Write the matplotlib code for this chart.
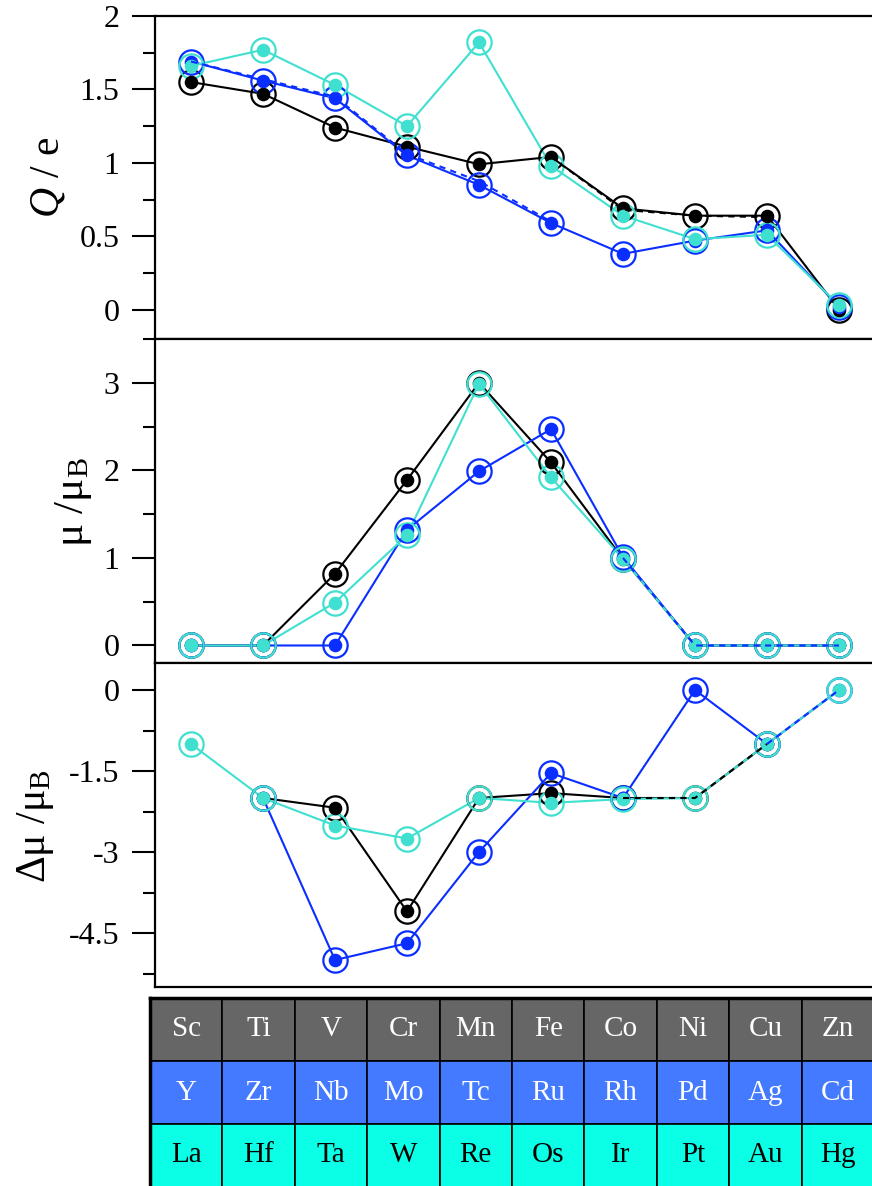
import numpy as np
import matplotlib
matplotlib.use("Agg")
import matplotlib.pyplot as plt
from matplotlib.ticker import MultipleLocator, FormatStrFormatter

plt.rcParams.update({
    "font.family": "Liberation Serif",
    "mathtext.fontset": "custom",
    "mathtext.rm": "Liberation Serif",
    "mathtext.it": "Liberation Serif:italic",
    "axes.unicode_minus": False,
})

# elements, one row of the periodic table per series
row_3d = ["Sc", "Ti", "V", "Cr", "Mn", "Fe", "Co", "Ni", "Cu", "Zn"]
row_4d = ["Y", "Zr", "Nb", "Mo", "Tc", "Ru", "Rh", "Pd", "Ag", "Cd"]
row_5d = ["La", "Hf", "Ta", "W", "Re", "Os", "Ir", "Pt", "Au", "Hg"]

nan = np.nan

# charge Q / e
q_3d = [1.55, 1.47, 1.24, 1.11, 0.99, 1.04, 0.69, 0.64, 0.64, 0.00]
q_4d = [1.69, 1.56, 1.44, 1.05, 0.85, 0.59, 0.38, 0.47, 0.54, 0.02]
q_5d = [1.66, 1.77, 1.53, 1.25, 1.82, 0.98, 0.64, 0.48, 0.51, 0.03]
q_4d_dash = [1.69, 1.57, 1.45, 1.06, 0.875, 0.60, nan, nan, nan, nan]
q_3d_dash = [nan, nan, nan, nan, nan, 1.04, 0.68, 0.64, 0.63, nan]

# magnetic moment mu / mu_B
mu_3d = [0.0, 0.0, 0.82, 1.89, 3.00, 2.09, 0.99, 0.0, 0.0, 0.0]
mu_4d = [0.0, 0.0, 0.00, 1.32, 1.99, 2.47, 1.01, 0.0, 0.0, 0.0]
mu_5d = [0.0, 0.0, 0.49, 1.26, 2.99, 1.92, 0.99, 0.0, 0.0, 0.0]
mu_4d_dash = [nan, nan, nan, nan, nan, nan, 1.0, 0.0, 0.0, 0.0]

# moment change delta mu / mu_B
dmu_3d = [nan, -2.0, -2.18, -4.10, -2.00, -1.91, -2.00, -2.0, -1.0, nan]
dmu_4d = [nan, -2.0, -5.00, -4.69, -3.00, -1.54, -2.00, 0.0, -1.0, 0.0]
dmu_5d = [-1.0, -2.0, -2.51, -2.75, -2.00, -2.09, -2.02, -2.0, -1.0, 0.0]
dmu_3d_dash = [nan, nan, nan, nan, nan, nan, -2.0, -2.0, -1.0, nan]
dmu_4d_dash = [nan, nan, nan, nan, nan, nan, nan, nan, -1.0, 0.0]

C_BLACK = "black"
C_BLUE = "#0a2eff"
C_TURQ = "#40e0d0"

W, H = 872, 1186
fig = plt.figure(figsize=(W / 100, H / 100), dpi=100)


def fx(px):
    return px / W


def fy(px):
    return 1 - px / H


def panel(top, bottom):
    return fig.add_axes([fx(155), fy(bottom), fx(875 - 155), (bottom - top) / H])


def draw(ax, series, dashed):
    x = np.arange(len(row_3d))
    for y, c in series:
        y = np.asarray(y, dtype=float)
        ax.plot(x, y, "-", color=c, lw=1.5, zorder=2)
        ax.plot(x, y, "o", ms=17.5, mfc="none", mec=c, mew=1.6, zorder=3)
        ax.plot(x, y, "o", ms=9.8, mfc=c, mec="none", zorder=4)
    for y, c in dashed:
        ax.plot(x, np.asarray(y, dtype=float), color=c, lw=1.5,
                ls=(0, (3, 2.5)), zorder=5)


def style(ax, ylim, major, minor):
    ax.set_xlim(-0.5, 9.5)
    ax.set_ylim(*ylim)
    ax.yaxis.set_major_locator(MultipleLocator(major))
    ax.yaxis.set_minor_locator(MultipleLocator(minor))
    ax.yaxis.set_major_formatter(FormatStrFormatter("%g"))
    ax.tick_params(axis="x", bottom=False, labelbottom=False)
    ax.tick_params(axis="y", which="major", direction="out", length=16.5,
                   width=1.5, labelsize=23, pad=9)
    ax.tick_params(axis="y", which="minor", direction="out", length=8.5,
                   width=1.5)
    for s in ax.spines.values():
        s.set_linewidth(1.6)


ax1 = panel(16, 339)
draw(ax1, [(q_3d, C_BLACK), (q_4d, C_BLUE), (q_5d, C_TURQ)],
     [(q_4d_dash, C_BLUE), (q_3d_dash, C_BLACK)])
style(ax1, (-0.2, 2.0), 0.5, 0.25)

ax2 = panel(339, 663)
draw(ax2, [(mu_3d, C_BLACK), (mu_4d, C_BLUE), (mu_5d, C_TURQ)],
     [(mu_4d_dash, C_BLUE)])
style(ax2, (-0.2, 3.5), 1, 0.5)

ax3 = panel(663, 987)
draw(ax3, [(dmu_3d, C_BLACK), (dmu_4d, C_BLUE), (dmu_5d, C_TURQ)],
     [(dmu_3d_dash, C_BLACK), (dmu_4d_dash, C_BLUE)])
style(ax3, (-5.5, 0.5), 1.5, 0.75)

fig.text(fx(48), fy(177), r"$Q$ / e", rotation=90, ha="center", va="center",
         fontsize=30)
fig.text(fx(73), fy(502), r"μ /μ$_\mathrm{B}$", rotation=90, ha="center",
         va="center", fontsize=31)
fig.text(fx(35), fy(826), r"Δμ /μ$_\mathrm{B}$", rotation=90, ha="center",
         va="center", fontsize=30)

# periodic table strip under the panels
axt = fig.add_axes([fx(150), fy(1187), fx(874 - 150), (1187 - 998) / H])
rows = [(row_3d, "#666666", "white"), (row_4d, "#447aff", "white"),
        (row_5d, "#0affe6", "black")]
cols = np.arange(len(row_3d))
for k, (names, face, tc) in enumerate(rows):
    level = len(rows) - 1 - k
    axt.bar(cols, 1, bottom=level, width=1, align="edge", color=face,
            edgecolor="black", linewidth=1.2)
    for i, name in enumerate(names):
        axt.text(i + 0.5, level + 0.5, name, ha="center", va="center",
                 color=tc, fontsize=21)
axt.set_xlim(0, len(row_3d))
axt.set_ylim(0, len(rows))
axt.set_xticks([])
axt.set_yticks([])
for s in axt.spines.values():
    s.set_linewidth(2.5)

fig.savefig("out.png", dpi=100)
